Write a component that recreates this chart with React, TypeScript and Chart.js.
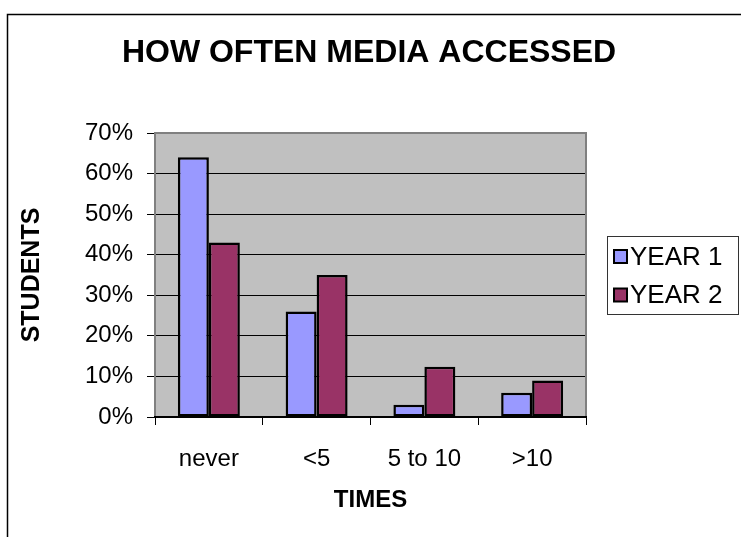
import React, { useEffect, useRef } from "react";
import { Chart, registerables } from "chart.js";

Chart.register(...registerables);

const chartTitle = "HOW OFTEN MEDIA ACCESSED";
const categories = ["never", "<5", "5 to 10", ">10"];
const seriesNames = ["YEAR 1", "YEAR 2"];
const year1 = [64, 26, 3, 6];
const year2 = [43, 35, 12.4, 9];
const seriesColors = ["#9999FF", "#993366"];
const yMin = 0;
const yMax = 70;
const yStep = 10;
const xTitle = "TIMES";
const yTitle = "STUDENTS";

const FONT = "'Liberation Sans', Arial, Helvetica, sans-serif";

const decorPlugin = {
  id: "decor",
  beforeDraw(chart: any) {
    const { ctx, width, height, chartArea } = chart;
    ctx.save();
    ctx.fillStyle = "#ffffff";
    ctx.fillRect(0, 0, width, height);
    ctx.strokeStyle = "#000000";
    ctx.lineWidth = 1.5;
    ctx.beginPath();
    ctx.moveTo(7.5, height + 2);
    ctx.lineTo(7.5, 14.5);
    ctx.lineTo(width + 2, 14.5);
    ctx.stroke();
    ctx.fillStyle = "#C0C0C0";
    ctx.fillRect(chartArea.left, chartArea.top, chartArea.right - chartArea.left, chartArea.bottom - chartArea.top);
    ctx.restore();
  },
  beforeDatasetsDraw(chart: any) {
    const { ctx, chartArea } = chart;
    ctx.save();
    ctx.strokeStyle = "#808080";
    ctx.lineWidth = 2;
    ctx.beginPath();
    ctx.moveTo(chartArea.left, chartArea.bottom);
    ctx.lineTo(chartArea.left, chartArea.top);
    ctx.lineTo(chartArea.right, chartArea.top);
    ctx.lineTo(chartArea.right, chartArea.bottom);
    ctx.stroke();
    ctx.strokeStyle = "#000000";
    ctx.lineWidth = 2;
    ctx.beginPath();
    ctx.moveTo(chartArea.left - 1, chartArea.bottom);
    ctx.lineTo(chartArea.right + 1, chartArea.bottom);
    ctx.stroke();
    ctx.restore();
  },
  afterDraw(chart: any) {
    const { ctx } = chart;
    ctx.save();
    ctx.fillStyle = "#000000";
    ctx.font = `bold 32px ${FONT}`;
    ctx.textAlign = "center";
    ctx.textBaseline = "middle";
    ctx.fillText(chartTitle, 369, 53);
    const bx = 607.5, by = 236.5, bw = 131, bh = 78;
    ctx.fillStyle = "#ffffff";
    ctx.fillRect(bx, by, bw, bh);
    ctx.strokeStyle = "#333333";
    ctx.lineWidth = 1;
    ctx.strokeRect(bx, by, bw, bh);
    const datasets = chart.data.datasets;
    const rowY = [256.5, 295];
    datasets.forEach((ds: any, i: number) => {
      const cy = rowY[i];
      ctx.fillStyle = ds.backgroundColor;
      ctx.fillRect(614, cy - 6.5, 13, 13);
      ctx.strokeStyle = "#000000";
      ctx.lineWidth = 2;
      ctx.strokeRect(614, cy - 6.5, 13, 13);
      ctx.fillStyle = "#000000";
      ctx.font = `26px ${FONT}`;
      ctx.textAlign = "left";
      ctx.textBaseline = "middle";
      ctx.fillText(ds.label, 630, cy + 1);
    });
    ctx.restore();
  },
};

export default function App() {
  const ref = useRef<HTMLCanvasElement | null>(null);
  useEffect(() => {
    if (!ref.current) return;
    const chart = new Chart(ref.current, {
      type: "bar",
      data: {
        labels: categories,
        datasets: [
          {
            label: seriesNames[0],
            data: year1,
            backgroundColor: seriesColors[0],
            borderColor: "#000000",
            borderWidth: 2.5,
            borderSkipped: false,
            categoryPercentage: 0.575,
            barPercentage: 1.0,
          },
          {
            label: seriesNames[1],
            data: year2,
            backgroundColor: seriesColors[1],
            borderColor: "#000000",
            borderWidth: 2.5,
            borderSkipped: false,
            categoryPercentage: 0.575,
            barPercentage: 1.0,
          },
        ],
      },
      options: {
        responsive: false,
        animation: false,
        devicePixelRatio: 1,
        layout: { padding: { top: 133, right: 155, left: 0, bottom: 0 } },
        plugins: {
          legend: { display: false },
          title: { display: false },
          tooltip: { enabled: false },
        },
        scales: {
          x: {
            grid: {
              display: true,
              drawOnChartArea: false,
              drawTicks: true,
              tickLength: 8,
              color: "#000000",
              offset: true,
            },
            border: { display: true, color: "#000000", width: 2 },
            ticks: {
              color: "#000000",
              font: { family: FONT, size: 24 },
              padding: 20,
              maxRotation: 0,
              autoSkip: false,
            },
            title: {
              display: true,
              text: xTitle,
              color: "#000000",
              font: { family: FONT, size: 24, weight: "bold" },
              padding: { top: 0, bottom: 22 },
            },
            afterFit: (s: any) => {
              s.height = 120;
            },
          },
          y: {
            min: yMin,
            max: yMax,
            grid: {
              color: "#000000",
              lineWidth: 1,
              drawTicks: true,
              tickLength: 8,
            },
            border: { display: true, color: "#808080", width: 2 },
            ticks: {
              stepSize: yStep,
              color: "#000000",
              font: { family: FONT, size: 24 },
              padding: 14,
              callback: (v: any) => `${v}%`,
            },
            title: {
              display: true,
              text: yTitle,
              color: "#000000",
              font: { family: FONT, size: 25, weight: "bold" },
              padding: { top: 17, bottom: 0 },
            },
            afterFit: (s: any) => {
              s.width = 155;
            },
          },
        },
      },
      plugins: [decorPlugin],
    });
    return () => chart.destroy();
  }, []);
  return (
    <div style={{ position: "absolute", left: 0, top: 0, width: 741, height: 537, overflow: "hidden" }}>
      <canvas ref={ref} width={741} height={537} style={{ display: "block", width: 741, height: 537 }} />
    </div>
  );
}
